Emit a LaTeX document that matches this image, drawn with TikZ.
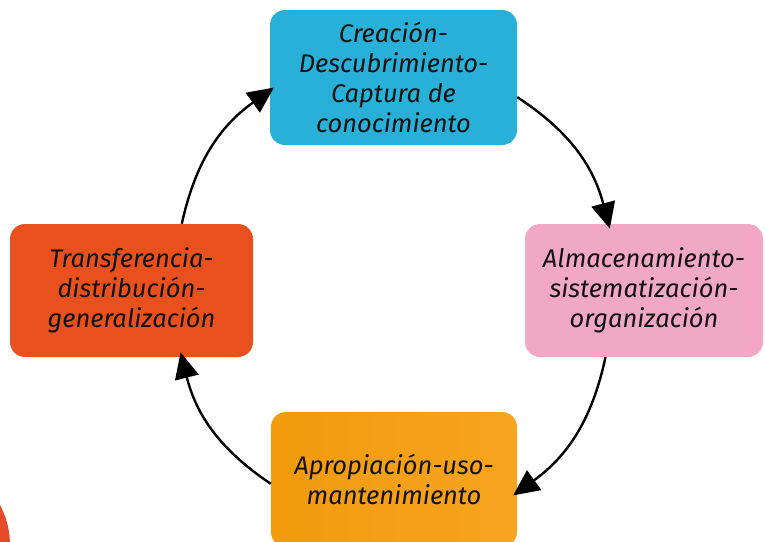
\documentclass[tikz,border=0pt]{standalone}
\usepackage{fontspec}
\setmainfont{Fira Sans}
\usepackage{tikz}
\usetikzlibrary{arrows.meta,shapes.misc}
\definecolor{capturecyan}{HTML}{29B0D8}
\definecolor{storepink}{HTML}{F2A8C4}
\definecolor{useorange}{HTML}{F39A0E}
\definecolor{useorangeright}{HTML}{F6A51F}
\definecolor{transferred}{HTML}{E8511E}
\definecolor{cornerred}{HTML}{E54B2A}

\begin{document}
\begin{tikzpicture}[x=1pt,y=-1pt,
		phase/.style={rectangle, rounded corners=15pt, align=center,
			inner sep=0pt, text=black!93,
			font=\itshape\fontsize{25.5}{30}\selectfont},
		cycle/.style={line width=2.4pt, -{Triangle[length=26pt,width=24pt]},
			shorten >=-5pt, bend left=21}]
		\useasboundingbox (0,0) rectangle (765,541);
		\clip (0,0) rectangle (765,541);
		\fill[cornerred] (-75,545) circle[radius=85pt];
		\node[phase, fill=capturecyan, minimum width=247pt, minimum height=135pt]
			(capture) at (393.5,77.5) {Creación-\\Descubrimiento-\\Captura de\\conocimiento};
		\node[phase, fill=storepink, minimum width=238pt, minimum height=133pt]
			(store) at (644,290.5) {Almacenamiento-\\sistematización-\\organización};
		\node[phase, left color=useorange, right color=useorangeright,
			minimum width=246pt, minimum height=135pt]
			(use) at (394,479.5) {Apropiación-uso-\\mantenimiento};
		\node[phase, fill=transferred, minimum width=243pt, minimum height=133pt]
			(transfer) at (131.5,290.5) {Transferencia-\\distribución-\\generalización};
		\draw[cycle] (capture.-9) to (store.118);
		\draw[cycle] (store.-120) to (use.-6);
		\draw[cycle] (use.182.5) to (transfer.-53);
		\draw[cycle] (transfer.53) to (capture.186.5);
\end{tikzpicture}
\end{document}
